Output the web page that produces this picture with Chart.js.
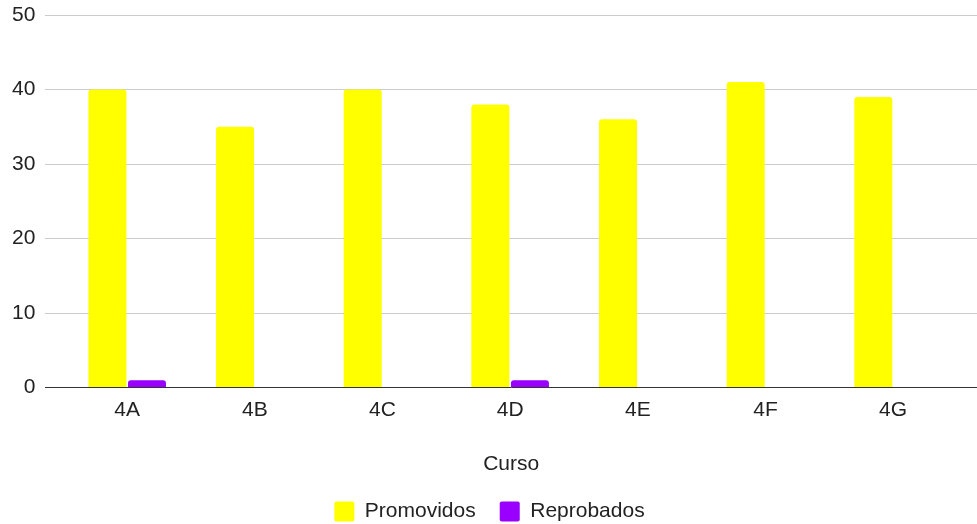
<!DOCTYPE html>
<html>
<head>
<meta charset="utf-8">
<script src="https://cdn.jsdelivr.net/npm/chart.js@4/dist/chart.umd.min.js"></script>
<style>
html,body{margin:0;padding:0;background:#fff;}
#wrap{width:977px;height:524px;position:relative;}
</style>
</head>
<body>
<div id="wrap"><canvas id="c"></canvas></div>
<script>
const categories = ["4A", "4B", "4C", "4D", "4E", "4F", "4G"];
const promovidos = [40, 35, 40, 38, 36, 41, 39];
const reprobados = [1, 0, 0, 1, 0, 0, 0];
const yTicks = [0, 10, 20, 30, 40, 50];
const xTitle = "Curso";
const seriesNames = ["Promovidos", "Reprobados"];

const FONT = "Arial, 'Liberation Sans', sans-serif";
const FS = 21;
const toPoints = arr => arr.map((v, i) => ({ x: i, y: v }));

new Chart(document.getElementById('c'), {
  type: 'bar',
  data: {
    datasets: [
      { label: seriesNames[0], data: toPoints(promovidos), backgroundColor: '#ffff00', borderRadius: {topLeft: 3, topRight: 3}, borderSkipped: 'bottom', categoryPercentage: 0.62, barPercentage: 0.96 },
      { label: seriesNames[1], data: toPoints(reprobados), backgroundColor: '#9900ff', borderRadius: {topLeft: 3, topRight: 3}, borderSkipped: 'bottom', categoryPercentage: 0.62, barPercentage: 0.96 }
    ]
  },
  options: {
    responsive: true,
    maintainAspectRatio: false,
    animation: false,
    layout: { padding: { top: 15, right: 0, left: 2, bottom: 0 } },
    scales: {
      x: {
        type: 'linear',
        offset: false,
        min: -0.641,
        max: 6.657,
        afterBuildTicks: s => { s.ticks = categories.map((_, i) => ({ value: i })); },
        ticks: {
          callback: v => categories[v] ?? '',
          font: { family: FONT, size: FS },
          color: '#222',
          padding: 10,
          maxRotation: 0,
          autoSkip: false
        },
        grid: { display: false, drawTicks: false, offset: false },
        border: { display: true, color: '#333', width: 1 },
        title: { display: true, text: xTitle, font: { family: FONT, size: FS }, color: '#222', padding: { top: 19, bottom: 0 } }
      },
      y: {
        min: 0,
        max: 50,
        afterBuildTicks: s => { s.ticks = yTicks.map(v => ({ value: v })); },
        afterFit: s => { s.paddingTop = 0; },
        ticks: { font: { family: FONT, size: FS }, color: '#222', padding: 10 },
        grid: { color: '#cccccc', lineWidth: 1, drawTicks: false },
        border: { display: false }
      }
    },
    plugins: {
      legend: {
        position: 'bottom',
        maxHeight: 47,
        labels: {
          font: { family: FONT, size: FS },
          color: '#222',
          boxWidth: 20,
          boxHeight: 20,
          padding: 24,
          useBorderRadius: true,
          borderRadius: 2
        }
      },
      tooltip: { enabled: false }
    }
  }
});
</script>
</body>
</html>
